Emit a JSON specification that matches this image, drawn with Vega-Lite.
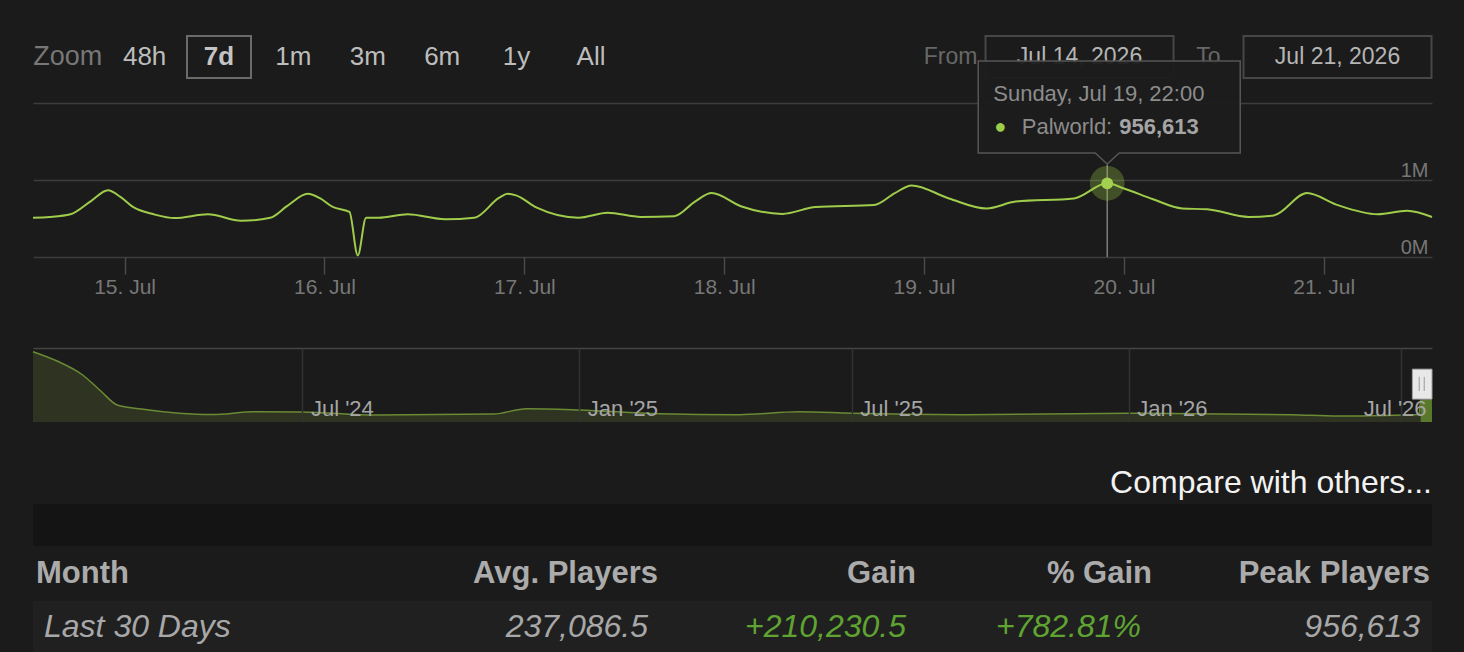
{
  "$schema": "https://vega.github.io/schema/vega-lite/v6.json",
  "background": "#1b1b1b",
  "padding": {"left": 29, "top": 35, "right": 32, "bottom": 0},
  "spacing": 0,
  "bounds": "flush",
  "config": {
    "view": {"stroke": null},
    "font": "Liberation Sans",
    "text": {"font": "Liberation Sans"},
    "title": {"font": "Liberation Sans"},
    "axis": {"labelFont": "Liberation Sans"}
  },
  "datasets": {
    "players": [
      {"t": "2026-07-14T13:00", "v": 510000},
      {"t": "2026-07-14T15:00", "v": 520000},
      {"t": "2026-07-14T17:30", "v": 555000},
      {"t": "2026-07-14T20:00", "v": 730000},
      {"t": "2026-07-14T22:00", "v": 866000},
      {"t": "2026-07-14T23:30", "v": 780000},
      {"t": "2026-07-15T01:00", "v": 650000},
      {"t": "2026-07-15T03:30", "v": 555000},
      {"t": "2026-07-15T06:00", "v": 505000},
      {"t": "2026-07-15T10:00", "v": 555000},
      {"t": "2026-07-15T14:00", "v": 470000},
      {"t": "2026-07-15T17:30", "v": 510000},
      {"t": "2026-07-15T19:30", "v": 660000},
      {"t": "2026-07-15T22:00", "v": 820000},
      {"t": "2026-07-15T23:30", "v": 760000},
      {"t": "2026-07-16T01:00", "v": 650000},
      {"t": "2026-07-16T03:00", "v": 585000},
      {"t": "2026-07-16T04:00", "v": 20000},
      {"t": "2026-07-16T05:00", "v": 510000},
      {"t": "2026-07-16T06:30", "v": 510000},
      {"t": "2026-07-16T10:00", "v": 555000},
      {"t": "2026-07-16T14:30", "v": 490000},
      {"t": "2026-07-16T18:00", "v": 510000},
      {"t": "2026-07-16T21:00", "v": 770000},
      {"t": "2026-07-16T22:00", "v": 820000},
      {"t": "2026-07-16T23:00", "v": 800000},
      {"t": "2026-07-17T01:30", "v": 640000},
      {"t": "2026-07-17T06:30", "v": 510000},
      {"t": "2026-07-17T10:00", "v": 575000},
      {"t": "2026-07-17T14:00", "v": 520000},
      {"t": "2026-07-17T18:00", "v": 530000},
      {"t": "2026-07-17T20:30", "v": 720000},
      {"t": "2026-07-17T22:30", "v": 830000},
      {"t": "2026-07-18T02:00", "v": 660000},
      {"t": "2026-07-18T07:00", "v": 560000},
      {"t": "2026-07-18T11:00", "v": 650000},
      {"t": "2026-07-18T18:00", "v": 675000},
      {"t": "2026-07-18T20:30", "v": 830000},
      {"t": "2026-07-18T22:30", "v": 930000},
      {"t": "2026-07-19T03:00", "v": 760000},
      {"t": "2026-07-19T07:30", "v": 630000},
      {"t": "2026-07-19T11:00", "v": 720000},
      {"t": "2026-07-19T18:00", "v": 760000},
      {"t": "2026-07-19T22:00", "v": 956613},
      {"t": "2026-07-20T00:00", "v": 890000},
      {"t": "2026-07-20T03:30", "v": 750000},
      {"t": "2026-07-20T07:00", "v": 630000},
      {"t": "2026-07-20T10:00", "v": 620000},
      {"t": "2026-07-20T15:00", "v": 520000},
      {"t": "2026-07-20T18:00", "v": 540000},
      {"t": "2026-07-20T22:00", "v": 830000},
      {"t": "2026-07-21T01:30", "v": 680000},
      {"t": "2026-07-21T06:30", "v": 555000},
      {"t": "2026-07-21T10:00", "v": 600000},
      {"t": "2026-07-21T13:00", "v": 520000}
    ],
    "history": [
      {"d": "2024-01-04T00:00", "v": 1995000},
      {"d": "2024-01-20T00:00", "v": 1730000},
      {"d": "2024-02-06T00:00", "v": 1334000},
      {"d": "2024-02-18T00:00", "v": 880000},
      {"d": "2024-02-29T00:00", "v": 482000},
      {"d": "2024-03-16T00:00", "v": 369000},
      {"d": "2024-04-10T00:00", "v": 250000},
      {"d": "2024-05-02T00:00", "v": 210000},
      {"d": "2024-05-30T00:00", "v": 292000},
      {"d": "2024-07-01T00:00", "v": 284000},
      {"d": "2024-08-19T00:00", "v": 199000},
      {"d": "2024-11-05T00:00", "v": 227000},
      {"d": "2024-11-27T00:00", "v": 377000},
      {"d": "2025-01-01T00:00", "v": 341000},
      {"d": "2025-02-23T00:00", "v": 236000},
      {"d": "2025-04-17T00:00", "v": 207000},
      {"d": "2025-05-27T00:00", "v": 292000},
      {"d": "2025-07-01T00:00", "v": 247000},
      {"d": "2025-09-13T00:00", "v": 207000},
      {"d": "2026-01-01T00:00", "v": 247000},
      {"d": "2026-04-19T00:00", "v": 207000},
      {"d": "2026-05-20T00:00", "v": 170000},
      {"d": "2026-07-02T00:00", "v": 199000},
      {"d": "2026-07-13T00:00", "v": 210000},
      {"d": "2026-07-14T00:00", "v": 620000},
      {"d": "2026-07-21T13:00", "v": 620000}
    ],
    "buttons": [
      {"b": "Zoom"}, {"b": "48h"}, {"b": "7d"}, {"b": "1m"},
      {"b": "3m"}, {"b": "6m"}, {"b": "1y"}, {"b": "All"}
    ],
    "range": [
      {"k": "From"}, {"k": "Jul 14, 2026"}, {"k": "To"}, {"k": "Jul 21, 2026"}
    ],
    "summary": [
      {"month": "Last 30 Days", "avg": 237086.5, "gain": 210230.5, "pct": 7.8281, "peak": 956613}
    ]
  },
  "vconcat": [
    {
      "width": 1399, "height": 42,
      "resolve": {"scale": {"x": "independent"}},
      "layer": [
        {"data": {"name": "buttons"},
         "transform": [{"filter": "datum.b == '7d'"}],
         "mark": {"type": "bar", "fill": "#1b1b1b", "stroke": "#6a6a6a", "strokeWidth": 2, "width": 64},
         "encoding": {"x": {"field": "b", "type": "nominal", "axis": null,
                            "scale": {"type": "point", "domain": ["Zoom", "48h", "7d", "1m", "3m", "6m", "1y", "All", "_1", "_2", "_3", "_4", "_5", "_6", "_7", "_8", "_9", "_10"], "padding": 0.902, "align": 0.2772}}}},
        {"data": {"name": "buttons"},
         "transform": [{"filter": "datum.b == 'Zoom'"}],
         "mark": {"type": "text", "align": "left", "dx": -37, "fontSize": 27, "color": "#777777"},
         "encoding": {"x": {"field": "b", "type": "nominal", "axis": null,
                            "scale": {"type": "point", "domain": ["Zoom", "48h", "7d", "1m", "3m", "6m", "1y", "All", "_1", "_2", "_3", "_4", "_5", "_6", "_7", "_8", "_9", "_10"], "padding": 0.902, "align": 0.2772}},
                      "text": {"field": "b"}}},
        {"data": {"name": "buttons"},
         "transform": [{"filter": "datum.b != 'Zoom' && datum.b != '7d'"}],
         "mark": {"type": "text", "fontSize": 26, "color": "#bdbdbd"},
         "encoding": {"x": {"field": "b", "type": "nominal", "axis": null,
                            "scale": {"type": "point", "domain": ["Zoom", "48h", "7d", "1m", "3m", "6m", "1y", "All", "_1", "_2", "_3", "_4", "_5", "_6", "_7", "_8", "_9", "_10"], "padding": 0.902, "align": 0.2772}},
                      "text": {"field": "b"}}},
        {"data": {"name": "buttons"},
         "transform": [{"filter": "datum.b == '7d'"}],
         "mark": {"type": "text", "fontSize": 26, "fontWeight": "bold", "color": "#c4c4c4"},
         "encoding": {"x": {"field": "b", "type": "nominal", "axis": null,
                            "scale": {"type": "point", "domain": ["Zoom", "48h", "7d", "1m", "3m", "6m", "1y", "All", "_1", "_2", "_3", "_4", "_5", "_6", "_7", "_8", "_9", "_10"], "padding": 0.902, "align": 0.2772}},
                      "text": {"field": "b"}}},
        {"data": {"name": "range"},
         "transform": [{"filter": "datum.k != 'From' && datum.k != 'To'"}],
         "mark": {"type": "bar", "fill": "#1b1b1b", "stroke": "#474747", "strokeWidth": 2, "width": 188},
         "encoding": {"x": {"field": "k", "type": "nominal", "axis": null,
                            "scale": {"type": "point", "domain": ["_1", "_2", "_3", "_4", "_5", "_6", "From", "Jul 14, 2026", "To", "Jul 21, 2026"], "padding": 0.9225, "align": 0.603}}}},
        {"data": {"name": "range"},
         "transform": [{"filter": "datum.k != 'From' && datum.k != 'To'"}],
         "mark": {"type": "text", "fontSize": 23, "color": "#b5b5b5"},
         "encoding": {"x": {"field": "k", "type": "nominal", "axis": null,
                            "scale": {"type": "point", "domain": ["_1", "_2", "_3", "_4", "_5", "_6", "From", "Jul 14, 2026", "To", "Jul 21, 2026"], "padding": 0.9225, "align": 0.603}},
                      "text": {"field": "k"}}},
        {"data": {"name": "range"},
         "transform": [{"filter": "datum.k == 'From' || datum.k == 'To'"}],
         "mark": {"type": "text", "fontSize": 23, "color": "#676767"},
         "encoding": {"x": {"field": "k", "type": "nominal", "axis": null,
                            "scale": {"type": "point", "domain": ["_1", "_2", "_3", "_4", "_5", "_6", "From", "Jul 14, 2026", "To", "Jul 21, 2026"], "padding": 0.9225, "align": 0.603}},
                      "text": {"field": "k"}}}
      ]
    },
    {"width": 1399, "height": 25, "data": {"values": [{}]}, "mark": {"type": "text", "text": ""}, "encoding": {}},
    {
      "width": 1399, "height": 154,
      "data": {"name": "players"},
      "layer": [
        {
          "mark": {"type": "line", "color": "#9fcc4a", "strokeWidth": 2, "interpolate": "monotone"},
          "encoding": {
            "x": {"field": "t", "type": "temporal",
                  "scale": {"domain": [{"year": 2026, "month": 7, "date": 14, "hours": 13}, {"year": 2026, "month": 7, "date": 21, "hours": 13}]},
                  "axis": {"orient": "bottom", "format": "%-d. %b", "tickCount": {"interval": "day", "step": 1},
                           "grid": false, "domain": false, "ticks": true, "tickSize": 17, "tickColor": "#4a4a4a", "tickWidth": 1.5,
                           "labelColor": "#777777", "labelFontSize": 21, "labelPadding": 2, "labelFlush": false,
                           "labelOverlap": false, "title": null}},
            "y": {"field": "v", "type": "quantitative",
                  "scale": {"domain": [0, 2000000], "nice": false},
                  "axis": {"orient": "right", "values": [0, 1000000, 2000000],
                           "labelExpr": "datum.value == 2000000 ? '' : format(datum.value / 1000000, 'd') + 'M'",
                           "grid": true, "gridColor": "#3d3d3d", "gridWidth": 1.5, "domain": false, "ticks": false, "tickSize": 0,
                           "labelAlign": "right", "labelBaseline": "alphabetic", "labelPadding": -4, "labelOffset": -4,
                           "labelColor": "#777777", "labelFontSize": 20, "title": null}}
          }
        },
        {
          "transform": [{"filter": "datum.v == 956613"}],
          "mark": {"type": "rule", "color": "#7d7d7d", "strokeWidth": 1.5},
          "encoding": {"x": {"field": "t", "type": "temporal"}, "y": {"datum": 0}, "y2": {"datum": 1200000}}
        },
        {
          "transform": [{"filter": "datum.v == 956613"}],
          "mark": {"type": "point", "filled": true, "size": 1200, "color": "#9fcc4a", "opacity": 0.3},
          "encoding": {"x": {"field": "t", "type": "temporal"}, "y": {"field": "v", "type": "quantitative"}}
        },
        {
          "transform": [{"filter": "datum.v == 956613"}],
          "mark": {"type": "point", "filled": true, "size": 140, "color": "#a3d04f", "opacity": 1},
          "encoding": {"x": {"field": "t", "type": "temporal"}, "y": {"field": "v", "type": "quantitative"}}
        },
        {
          "transform": [{"filter": "datum.v == 956613"}],
          "mark": {"type": "point", "filled": true, "size": 40000, "opacity": 1,
                   "shape": "M -1.29 -1.223 L 1.33 -1.223 L 1.33 -0.303 L 0.12 -0.303 L 0 -0.193 L -0.12 -0.303 L -1.29 -0.303 Z",
                   "fill": "#1c1c1c", "fillOpacity": 0.95, "stroke": "#565656", "strokeWidth": 1.5},
          "encoding": {"x": {"field": "t", "type": "temporal"}, "y": {"field": "v", "type": "quantitative"}}
        },
        {
          "transform": [{"filter": "datum.v == 956613"}],
          "mark": {"type": "text", "align": "left", "dx": -114, "dy": -89, "fontSize": 22, "color": "#8c8c8c"},
          "encoding": {"x": {"field": "t", "type": "temporal"}, "y": {"field": "v", "type": "quantitative"},
                       "text": {"field": "t", "type": "temporal", "format": "%A, %b %-d, %H:%M"}}
        },
        {
          "transform": [{"filter": "datum.v == 956613"}],
          "mark": {"type": "text", "text": "●", "align": "center", "dx": -107, "dy": -56, "fontSize": 20, "color": "#9fcc4a"},
          "encoding": {"x": {"field": "t", "type": "temporal"}, "y": {"field": "v", "type": "quantitative"}}
        },
        {
          "transform": [{"filter": "datum.v == 956613"}],
          "mark": {"type": "text", "text": "Palworld:", "align": "right", "dx": 5, "dy": -56, "fontSize": 22, "color": "#8c8c8c"},
          "encoding": {"x": {"field": "t", "type": "temporal"}, "y": {"field": "v", "type": "quantitative"}}
        },
        {
          "transform": [{"filter": "datum.v == 956613"}],
          "mark": {"type": "text", "align": "left", "dx": 12, "dy": -56, "fontSize": 22, "fontWeight": "bold", "color": "#a5a5a5"},
          "encoding": {"x": {"field": "t", "type": "temporal"}, "y": {"field": "v", "type": "quantitative"},
                       "text": {"field": "v", "type": "quantitative", "format": ",d"}}
        }
      ]
    },
    {"width": 1399, "height": 91, "data": {"values": [{}]}, "mark": {"type": "text", "text": ""}, "encoding": {}},
    {
      "width": 1399, "height": 74,
      "data": {"name": "history"},
      "layer": [
        {
          "mark": {"type": "area", "color": "#363f24", "interpolate": "monotone",
                   "line": {"color": "#6b8a34", "strokeWidth": 1.5}},
          "encoding": {
            "x": {"field": "d", "type": "temporal",
                  "scale": {"domain": [{"year": 2024, "month": 1, "date": 4}, {"year": 2026, "month": 7, "date": 21, "hours": 13}]},
                  "axis": {"orient": "bottom", "format": "%b '%y", "tickCount": {"interval": "month", "step": 6},
                           "grid": true, "gridColor": "#333333", "gridWidth": 1.5, "ticks": false, "tickSize": 0, "domain": false,
                           "labelAlign": {"condition": {"test": "datum.value >= datetime(2026, 4, 1)", "value": "right"}, "value": "left"},
                           "labelOffset": {"condition": {"test": "datum.value >= datetime(2026, 4, 1)", "value": 25}, "value": 8},
                           "labelBaseline": "alphabetic", "labelPadding": -7, "labelColor": "#a5a5a5", "labelFontSize": 22,
                           "labelFlush": false, "labelOverlap": false, "labelBound": false, "zindex": 1, "title": null}},
            "y": {"field": "v", "type": "quantitative",
                  "scale": {"domain": [0, 2100000], "nice": false},
                  "axis": {"values": [2100000], "grid": true, "gridColor": "#444444", "gridWidth": 1.5,
                           "labels": false, "ticks": false, "domain": false, "title": null}}
          }
        },
        {
          "transform": [{"filter": "toDate(datum.d) >= datetime(2026, 6, 14)"}],
          "mark": {"type": "area", "color": "#58792c", "interpolate": "monotone"},
          "encoding": {"x": {"field": "d", "type": "temporal"}, "y": {"field": "v", "type": "quantitative"}}
        },
        {
          "data": {"values": [{}]},
          "mark": {"type": "rect", "fill": "#e8e8e8", "stroke": "#a0a0a0", "strokeWidth": 1},
          "encoding": {
            "x": {"datum": {"year": 2026, "month": 7, "date": 8, "hours": 12}, "type": "temporal"},
            "x2": {"datum": {"year": 2026, "month": 7, "date": 21, "hours": 13}},
            "y": {"datum": 650000, "type": "quantitative"},
            "y2": {"datum": 1500000}
          }
        },
        {
          "data": {"values": [{}]},
          "mark": {"type": "rule", "color": "#999999", "strokeWidth": 1},
          "encoding": {
            "x": {"datum": {"year": 2026, "month": 7, "date": 13, "hours": 1}, "type": "temporal"},
            "y": {"datum": 880000, "type": "quantitative"},
            "y2": {"datum": 1280000}
          }
        },
        {
          "data": {"values": [{}]},
          "mark": {"type": "rule", "color": "#999999", "strokeWidth": 1},
          "encoding": {
            "x": {"datum": {"year": 2026, "month": 7, "date": 16, "hours": 9}, "type": "temporal"},
            "y": {"datum": 880000, "type": "quantitative"},
            "y2": {"datum": 1280000}
          }
        }
      ]
    },
    {"width": 1399, "height": 39, "data": {"values": [{}]}, "mark": {"type": "text", "text": ""}, "encoding": {}},
    {
      "width": 1399, "height": 43,
      "data": {"values": [{"link": "Compare with others..."}]},
      "mark": {"type": "text", "align": "right", "fontSize": 32, "color": "#f2f2f2"},
      "encoding": {
        "x": {"field": "link", "type": "nominal", "axis": null, "scale": {"type": "point", "align": 1}},
        "text": {"field": "link"}
      }
    },
    {"width": 1399, "height": 42, "view": {"fill": "#141414", "stroke": null}, "data": {"values": [{}]}, "mark": {"type": "text", "text": ""}, "encoding": {}},
    {
      "width": 1399, "height": 55,
      "data": {"name": "summary"},
      "resolve": {"scale": {"x": "independent"}},
      "layer": [
        {"mark": {"type": "text", "text": "Month", "align": "left", "dx": 3, "fontSize": 31, "fontWeight": "bold", "color": "#ababab"},
         "encoding": {"x": {"field": "month", "type": "nominal", "axis": null, "scale": {"type": "point", "align": 0}}}},
        {"mark": {"type": "text", "text": "Avg. Players", "align": "right", "fontSize": 31, "fontWeight": "bold", "color": "#ababab"},
         "encoding": {"x": {"field": "avg", "type": "nominal", "axis": null, "scale": {"type": "point", "align": 0.44675}}}},
        {"mark": {"type": "text", "text": "Gain", "align": "right", "fontSize": 31, "fontWeight": "bold", "color": "#ababab"},
         "encoding": {"x": {"field": "gain", "type": "nominal", "axis": null, "scale": {"type": "point", "align": 0.63117}}}},
        {"mark": {"type": "text", "text": "% Gain", "align": "right", "fontSize": 31, "fontWeight": "bold", "color": "#ababab"},
         "encoding": {"x": {"field": "pct", "type": "nominal", "axis": null, "scale": {"type": "point", "align": 0.79986}}}},
        {"mark": {"type": "text", "text": "Peak Players", "align": "right", "dx": -2, "fontSize": 31, "fontWeight": "bold", "color": "#ababab"},
         "encoding": {"x": {"field": "peak", "type": "nominal", "axis": null, "scale": {"type": "point", "align": 1}}}}
      ]
    },
    {
      "width": 1399, "height": 52,
      "view": {"fill": "#202020", "stroke": null},
      "data": {"name": "summary"},
      "resolve": {"scale": {"x": "independent"}},
      "layer": [
        {"mark": {"type": "text", "align": "left", "dx": 11, "fontSize": 32, "fontStyle": "italic", "color": "#a8a8a8"},
         "encoding": {"x": {"field": "month", "type": "nominal", "axis": null, "scale": {"type": "point", "align": 0}},
                      "text": {"field": "month"}}},
        {"mark": {"type": "text", "align": "right", "dx": -10, "fontSize": 32, "fontStyle": "italic", "color": "#a8a8a8"},
         "encoding": {"x": {"field": "avg", "type": "nominal", "axis": null, "scale": {"type": "point", "align": 0.44675}},
                      "text": {"field": "avg", "type": "quantitative", "format": ",.1f"}}},
        {"mark": {"type": "text", "align": "right", "dx": -10, "fontSize": 32, "fontStyle": "italic", "color": "#5fa432"},
         "encoding": {"x": {"field": "gain", "type": "nominal", "axis": null, "scale": {"type": "point", "align": 0.63117}},
                      "text": {"field": "gain", "type": "quantitative", "format": "+,.1f"}}},
        {"mark": {"type": "text", "align": "right", "dx": -11, "fontSize": 32, "fontStyle": "italic", "color": "#5fa432"},
         "encoding": {"x": {"field": "pct", "type": "nominal", "axis": null, "scale": {"type": "point", "align": 0.79986}},
                      "text": {"field": "pct", "type": "quantitative", "format": "+.2%"}}},
        {"mark": {"type": "text", "align": "right", "dx": -12, "fontSize": 32, "fontStyle": "italic", "color": "#a8a8a8"},
         "encoding": {"x": {"field": "peak", "type": "nominal", "axis": null, "scale": {"type": "point", "align": 1}},
                      "text": {"field": "peak", "type": "quantitative", "format": ",d"}}}
      ]
    }
  ]
}
